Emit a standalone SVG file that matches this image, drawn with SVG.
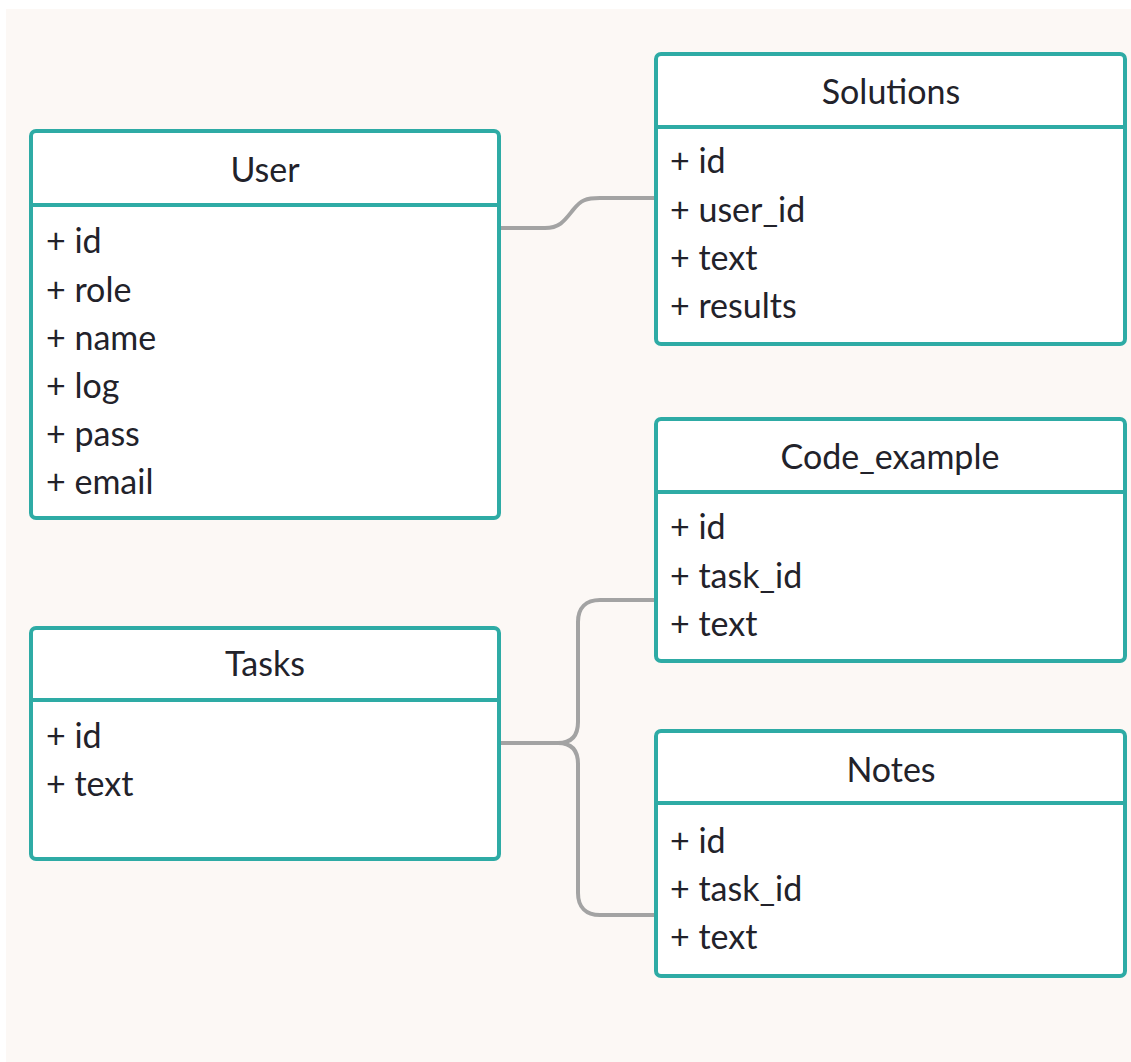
<svg xmlns="http://www.w3.org/2000/svg" width="1131" height="1062" viewBox="0 0 1131 1062">
<style>
.box{fill:#ffffff;stroke:#2eaba5;stroke-width:4}
.div{stroke:#2eaba5;stroke-width:4}
.t{font-family:Lato,"Open Sans","Liberation Sans",sans-serif;font-size:34px;fill:#22222a}
.h{text-anchor:middle}
.c{fill:none;stroke:#a3a3a3;stroke-width:4;stroke-linecap:round}
</style>
<rect x="0" y="0" width="1131" height="1062" fill="#ffffff"/>
<rect x="6" y="9" width="1125" height="1053" fill="#fcf8f5"/>
<g id="connectors">
<path class="c" d="M501 228 H545 C560 228 565 220 573 210 C581 200 586 198 600 198 H656"/>
<path class="c" d="M501 743 H558 C572 743 578 735 578 722 V622 C578 608 586 600 600 600 H656"/>
<path class="c" d="M558 743 C572 743 578 751 578 764 V893 C578 907 586 915 600 915 H656"/>
</g>
<g id="user">
<rect class="box" x="31" y="131" width="468" height="387" rx="5"/>
<line class="div" x1="31" y1="205" x2="499" y2="205"/>
<text class="t h" x="265" y="182">User</text>
<text class="t" x="46" y="253">+ id</text>
<text class="t" x="46" y="302">+ role</text>
<text class="t" x="46" y="350">+ name</text>
<text class="t" x="46" y="398">+ log</text>
<text class="t" x="46" y="446">+ pass</text>
<text class="t" x="46" y="494">+ email</text>
</g>
<g id="solutions">
<rect class="box" x="656" y="54" width="469" height="290" rx="5"/>
<line class="div" x1="656" y1="127" x2="1125" y2="127"/>
<text class="t h" x="891" y="104">Solutions</text>
<text class="t" x="670" y="173">+ id</text>
<text class="t" x="670" y="222">+ user_id</text>
<text class="t" x="670" y="270">+ text</text>
<text class="t" x="670" y="318">+ results</text>
</g>
<g id="code_example">
<rect class="box" x="656" y="419" width="469" height="242" rx="5"/>
<line class="div" x1="656" y1="492" x2="1125" y2="492"/>
<text class="t h" x="890" y="469">Code_example</text>
<text class="t" x="670" y="539">+ id</text>
<text class="t" x="670" y="588">+ task_id</text>
<text class="t" x="670" y="636">+ text</text>
</g>
<g id="tasks">
<rect class="box" x="31" y="628" width="468" height="231" rx="5"/>
<line class="div" x1="31" y1="700" x2="499" y2="700"/>
<text class="t h" x="265" y="676">Tasks</text>
<text class="t" x="46" y="748">+ id</text>
<text class="t" x="46" y="796">+ text</text>
</g>
<g id="notes">
<rect class="box" x="656" y="731" width="469" height="245" rx="5"/>
<line class="div" x1="656" y1="803" x2="1125" y2="803"/>
<text class="t h" x="891" y="782">Notes</text>
<text class="t" x="670" y="853">+ id</text>
<text class="t" x="670" y="901">+ task_id</text>
<text class="t" x="670" y="949">+ text</text>
</g>
</svg>
